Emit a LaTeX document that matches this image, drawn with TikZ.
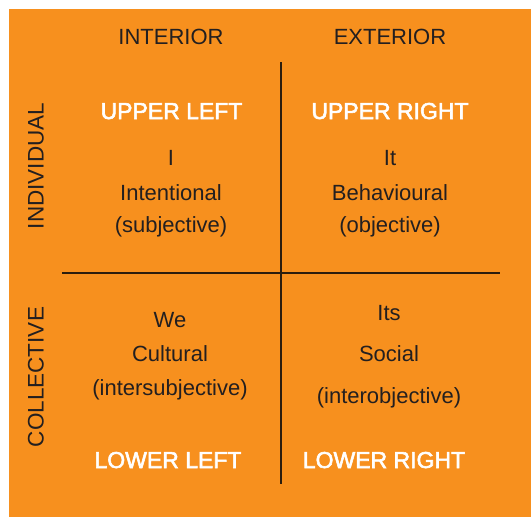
\documentclass[tikz,border=0pt]{standalone}
\usepackage{fontspec}
\setmainfont{Liberation Sans}
\newfontfamily\medfont{Liberation Sans}[FakeBold=2.5]
\definecolor{quadorange}{HTML}{F7901E}
\definecolor{inkdark}{HTML}{231F20}
\definecolor{ruledark}{HTML}{2B1D0E}
\begin{document}
\begin{tikzpicture}[x=1pt,y=-1pt,
  axislabel/.style={text=inkdark,font=\fontsize{22}{26}\selectfont,inner sep=0pt,anchor=base},
  sidelabel/.style={text=inkdark,font=\fontsize{22.5}{26}\selectfont,inner sep=0pt,rotate=90,anchor=center},
  quadtitle/.style={text=white,font=\medfont\fontsize{23}{26}\selectfont,inner sep=0pt,anchor=base},
  quadtext/.style={text=inkdark,font=\fontsize{22}{26}\selectfont,inner sep=0pt,anchor=base},
  divider/.style={draw=ruledark,line width=1.4pt}]
  \useasboundingbox (0,0) rectangle (531,517);
  % background panel
  \fill[white] (0,0) rectangle (531,517);
  \fill[quadorange] (8.5,8.5) rectangle (531,517);

  % column headings
  \node[axislabel] (interior) at (171,44) {INTERIOR};
  \node[axislabel] (exterior) at (390,44) {EXTERIOR};

  % row headings
  \node[sidelabel] (individual) at (36,166) {INDIVIDUAL};
  \node[sidelabel] (collective) at (36,377) {COLLECTIVE};

  % dividing axes
  \coordinate (vtop) at (281,62);
  \coordinate (vbot) at (281,484);
  \coordinate (hleft) at (62,273);
  \coordinate (hright) at (500,273);
  \draw[divider] (vtop) -- (vbot);
  \draw[divider] (hleft) -- (hright);

  % upper left quadrant
  \node[quadtitle] (ul) at (171.5,119) {UPPER LEFT};
  \node[quadtext] (ul1) at (171,165) {I};
  \node[quadtext] (ul2) at (171,200) {Intentional};
  \node[quadtext] (ul3) at (171,232) {(subjective)};

  % upper right quadrant
  \node[quadtitle] (ur) at (390,119) {UPPER RIGHT};
  \node[quadtext] (ur1) at (390,165) {It};
  \node[quadtext] (ur2) at (390,200) {Behavioural};
  \node[quadtext] (ur3) at (390,232) {(objective)};

  % lower left quadrant
  \node[quadtext] (ll1) at (170,327) {We};
  \node[quadtext] (ll2) at (170,361) {Cultural};
  \node[quadtext] (ll3) at (170,395) {(intersubjective)};
  \node[quadtitle] (ll) at (168,468) {LOWER LEFT};

  % lower right quadrant
  \node[quadtext] (lr1) at (389,320) {Its};
  \node[quadtext] (lr2) at (389,361) {Social};
  \node[quadtext] (lr3) at (389,403) {(interobjective)};
  \node[quadtitle] (lr) at (384,468) {LOWER RIGHT};
\end{tikzpicture}
\end{document}
